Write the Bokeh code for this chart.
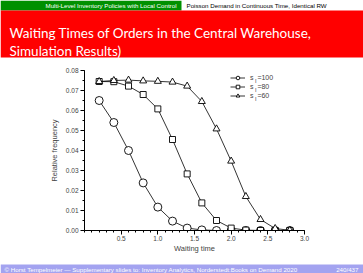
from bokeh.plotting import figure
from bokeh.models import (FixedTicker, Legend, LegendItem, Label, Range1d,
                          ColumnDataSource, NumeralTickFormatter)
from bokeh.core.properties import value
from bokeh.embed import file_html
from bokeh.resources import INLINE

# ---- data ----
waiting_time = [0.2, 0.4, 0.6, 0.8, 1.0, 1.2, 1.4, 1.6, 1.8, 2.0, 2.2, 2.4, 2.6, 2.8]
freq_s100 = [0.0650, 0.0540, 0.0400, 0.0238, 0.0117, 0.0047, 0.0012, 0.0003,
             0.0, 0.0, 0.0, 0.0, 0.0, 0.0]
freq_s80 = [0.0745, 0.0744, 0.0722, 0.0680, 0.0608, 0.0455, 0.0283, 0.0138,
            0.0050, 0.0012, 0.0002, 0.0, 0.0, 0.0]
freq_s60 = [0.0745, 0.0750, 0.0752, 0.0748, 0.0746, 0.0742, 0.0722, 0.0645,
            0.0508, 0.0347, 0.0170, 0.0055, 0.0010, 0.0001]
series_names = ["=100", "=80", "=60"]
y_ticks = [0.0, 0.01, 0.02, 0.03, 0.04, 0.05, 0.06, 0.07, 0.08]
x_ticks = [0.5, 1.0, 1.5, 2.0, 2.5, 3.0]

header_left = "Multi-Level Inventory Policies with Local Control"
header_right = "Poisson Demand in Continuous Time, Identical RW"
title_lines = ["Waiting Times of Orders in the Central Warehouse,", "Simulation Results)"]
footer_text = ("\u00a9 Horst Tempelmeier \u2014 Supplementary slides to: Inventory Analytics, "
               "Norderstedt:Books on Demand 2020")
page_text = "240/437"

W, H = 363, 273
HEAD_H, FOOT_H = 58, 14
CH = H - HEAD_H - FOOT_H
FOOT_TOP = H - FOOT_H


def blank(h):
    f = figure(width=W, height=h, output_backend="svg", toolbar_location=None,
               x_range=Range1d(0, W), y_range=Range1d(h, 0),
               min_border=0, outline_line_color=None, border_fill_color="white",
               background_fill_color="white")
    f.axis.visible = False
    f.grid.visible = False
    return f


# ---- header ----
hd = blank(HEAD_H)
hd.quad(left=[0], right=[181], top=[0], bottom=[10], fill_color="#009000", line_color=None)
hd.quad(left=[0], right=[W], top=[10], bottom=[57], fill_color="#ff0000", line_color=None)
hd.text(x=[176], y=[5.3], text=[header_left], text_color="white", text_align="right",
        text_baseline="middle", text_font=value("Liberation Sans"), text_font_size="6.2px")
hd.text(x=[186], y=[5.3], text=[header_right], text_color="black", text_align="left",
        text_baseline="middle", text_font=value("Liberation Sans"), text_font_size="6.2px")
hd.text(x=[9, 9], y=[32.5, 50], text=title_lines, text_color="white", text_align="left",
        text_baseline="alphabetic", text_font=value("Lato"), text_font_size="13.5px")

# ---- footer ----
ft = blank(FOOT_H)
ft.quad(left=[0], right=[W], top=[264 - FOOT_TOP], bottom=[FOOT_H], fill_color="#a3a3f0",
        line_color=None)
ft.text(x=[4], y=[268.6 - FOOT_TOP], text=[footer_text], text_color="white", text_align="left",
        text_baseline="middle", text_font=value("Liberation Sans"), text_font_size="6.2px")
ft.text(x=[358], y=[268.6 - FOOT_TOP], text=[page_text], text_color="white", text_align="right",
        text_baseline="middle", text_font=value("Liberation Sans"), text_font_size="6.2px")

# ---- chart ----
p = figure(width=W, height=CH, output_backend="svg", toolbar_location=None,
           x_range=Range1d(0, 3.0), y_range=Range1d(0, 0.08),
           min_border_left=84, min_border_right=59, min_border_top=70 - HEAD_H,
           min_border_bottom=FOOT_TOP - 230, outline_line_color=None,
           background_fill_color="white", border_fill_color="white")
p.grid.visible = False

src = ColumnDataSource(dict(x=waiting_time, a=freq_s100, b=freq_s80, c=freq_s60))
items = []
for col, marker, size in [("a", "circle", 8), ("b", "square", 6), ("c", "triangle", 7)]:
    r1 = p.line("x", col, source=src, line_color="black", line_width=0.8)
    r2 = p.scatter("x", col, source=src, marker=marker, size=size,
                   fill_color="white", line_color="black", line_width=0.9)
    items.append((r1, r2))

ROW = 9
LEG_BOTTOM = 130
legend = Legend(items=[LegendItem(label="s  " + n, renderers=list(rr))
                       for n, rr in zip(series_names, items)],
                location=(146, LEG_BOTTOM), orientation="vertical")
legend.padding = 0
legend.margin = 0
legend.spacing = 0
legend.glyph_height = ROW
legend.glyph_width = 15
legend.label_height = ROW
legend.label_standoff = 5
legend.label_text_font = "Liberation Sans"
legend.label_text_font_size = "7px"
legend.border_line_color = None
legend.background_fill_alpha = 0
p.add_layout(legend, "center")
for i in range(3):
    yc = LEG_BOTTOM + (2.5 - i) * ROW
    p.add_layout(Label(x=146 + 15 + 5 + 4.6, y=yc - 3.2, x_units="screen", y_units="screen",
                       text="I", text_font="Liberation Sans", text_font_size="5.5px",
                       text_baseline="middle", text_align="left"))

for ax in (p.xaxis[0], p.yaxis[0]):
    ax.axis_line_color = "black"
    ax.axis_line_width = 1
    ax.major_tick_in = 0
    ax.major_tick_out = 4
    ax.minor_tick_in = 0
    ax.minor_tick_out = 2
    ax.major_label_text_font = "Liberation Sans"
    ax.major_label_text_font_size = "6.5px"
    ax.axis_label_text_font = "Liberation Sans"
    ax.axis_label_text_font_size = "7.5px"
    ax.axis_label_text_font_style = "normal"
p.xaxis.ticker = FixedTicker(ticks=x_ticks, minor_ticks=[i / 10 for i in range(31)])
p.yaxis.ticker = FixedTicker(ticks=y_ticks, minor_ticks=[i / 200 for i in range(17)])
p.yaxis.formatter = NumeralTickFormatter(format="0.00")
p.xaxis.formatter = NumeralTickFormatter(format="0.0")
p.xaxis.axis_label = "Waiting time"
p.yaxis.axis_label = "Relative frequency"
p.xaxis.major_label_standoff = 1
p.yaxis.major_label_standoff = 2
p.xaxis.axis_label_standoff = 0
p.yaxis.axis_label_standoff = 4

open("out.html", "w").write(file_html([hd, p, ft], INLINE))
